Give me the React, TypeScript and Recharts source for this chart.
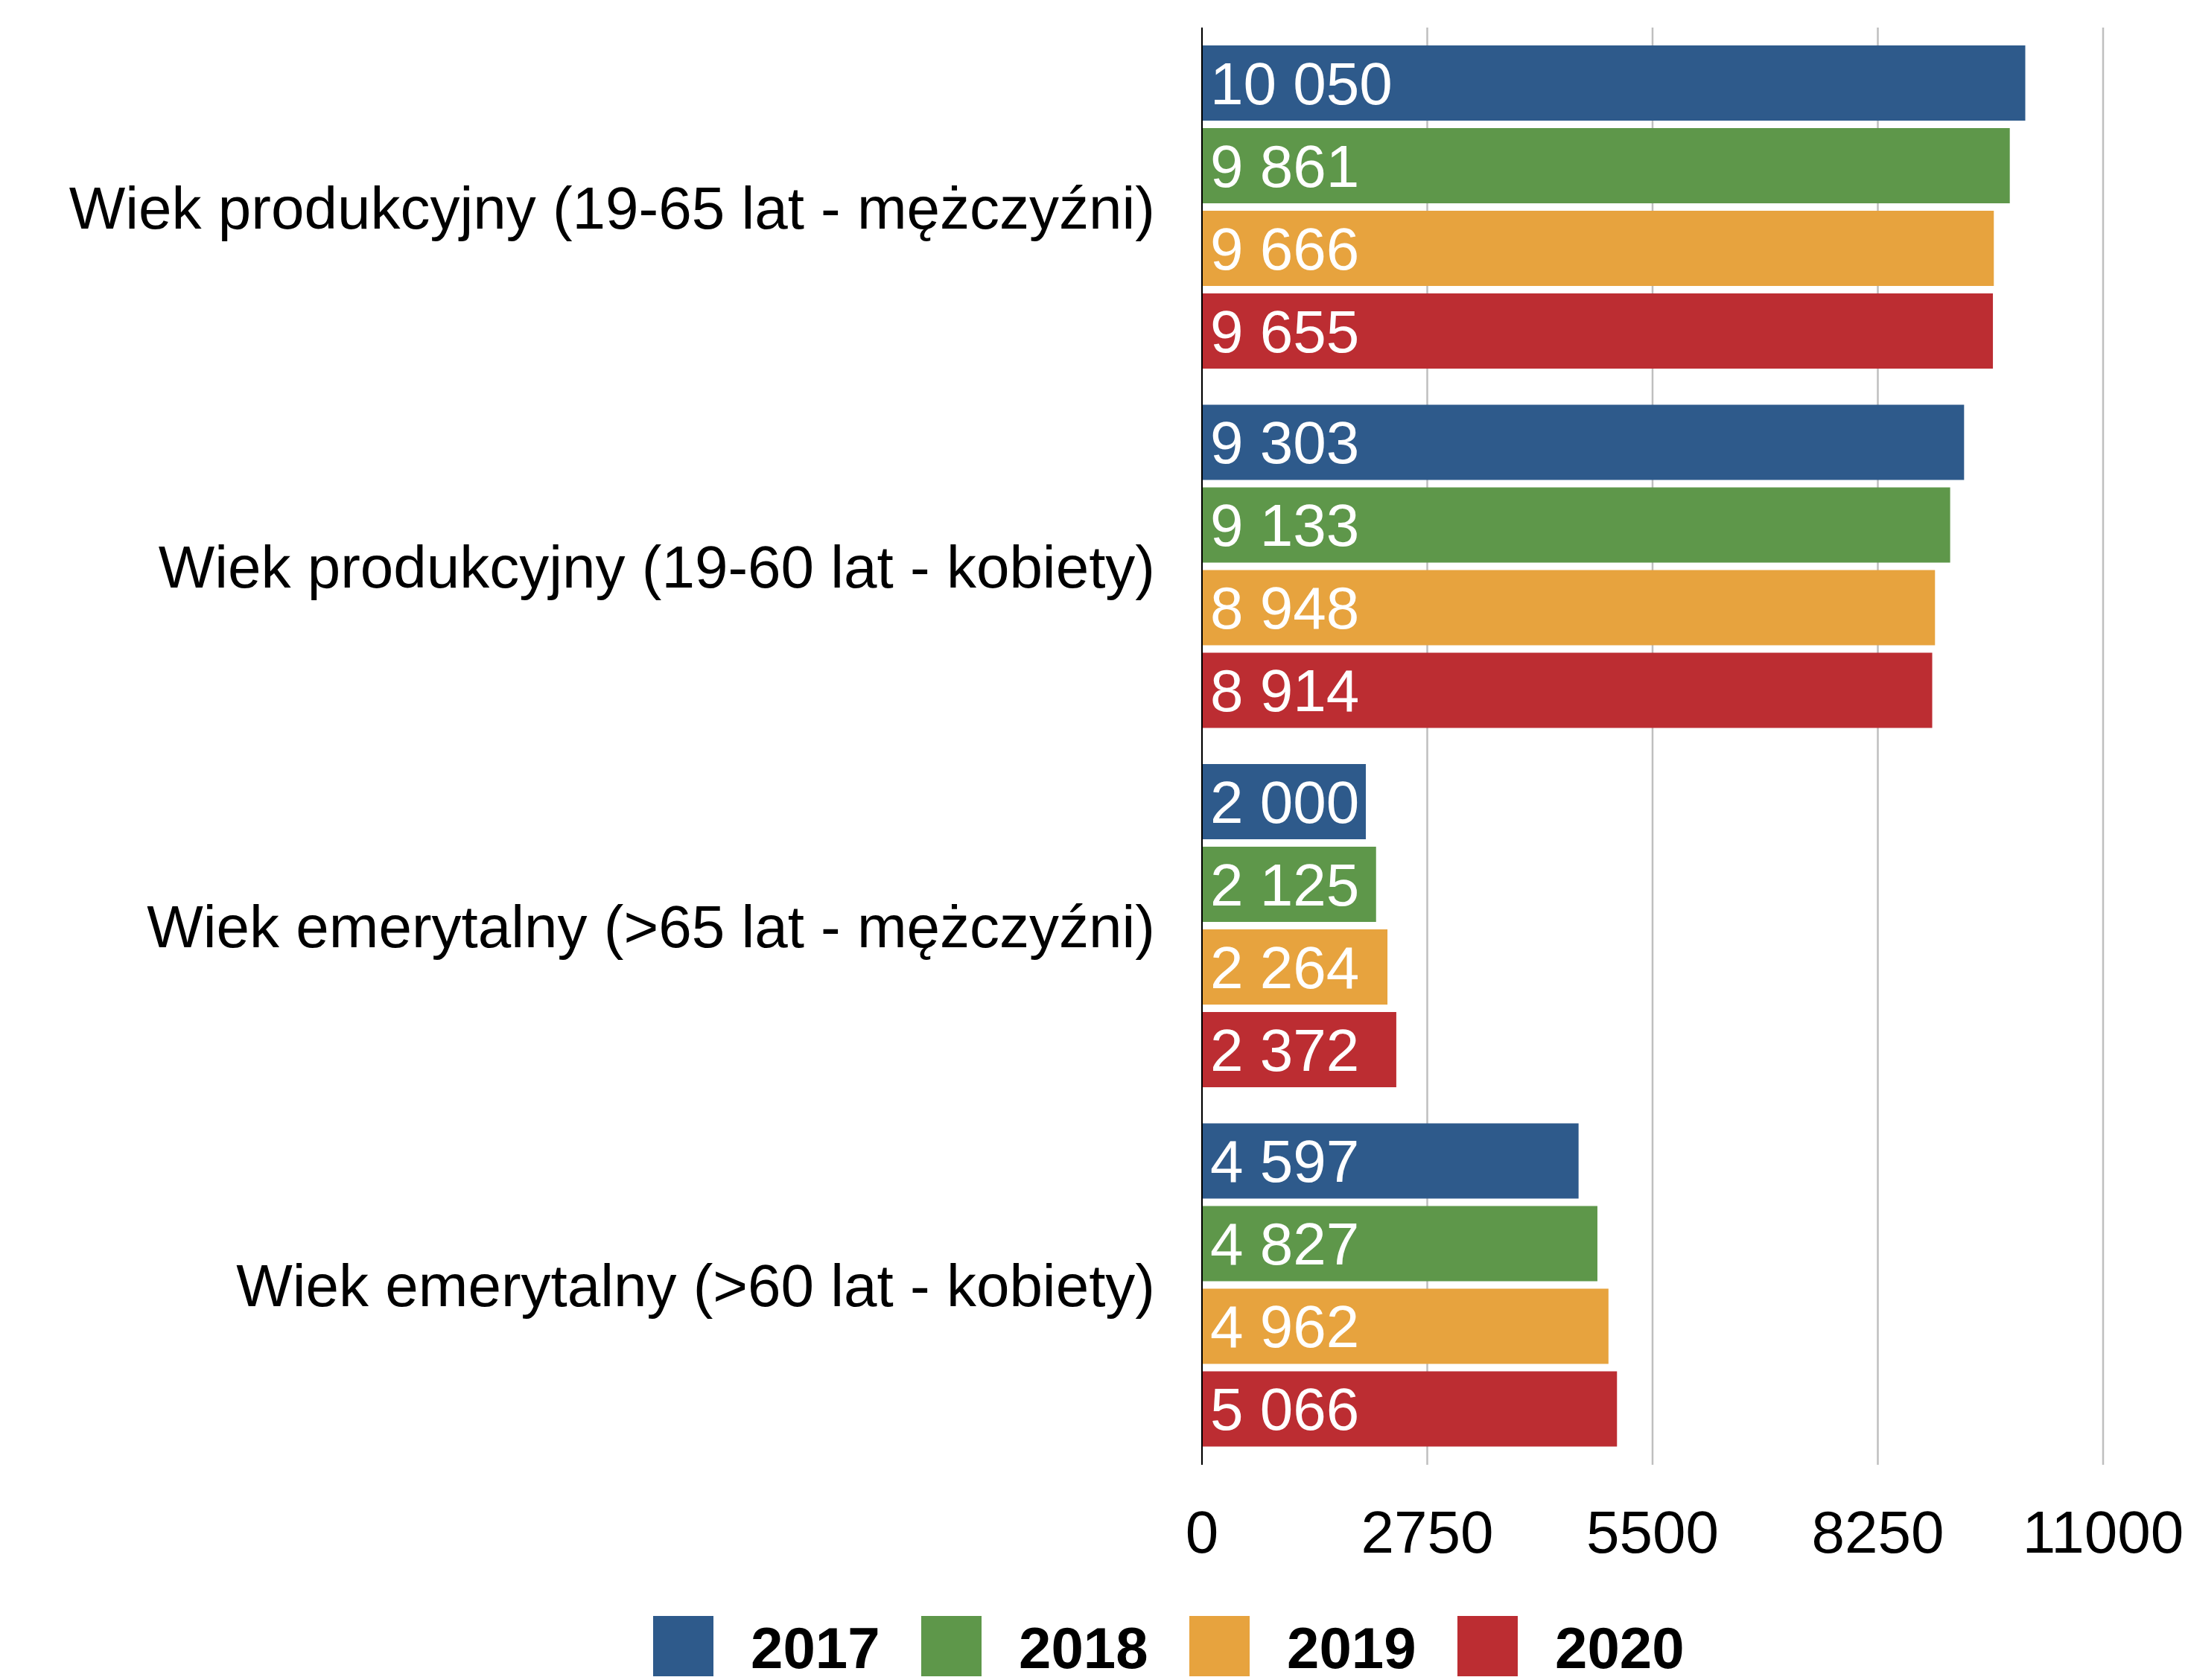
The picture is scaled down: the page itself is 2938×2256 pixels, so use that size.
import React from 'react';
import { BarChart, Bar, XAxis, YAxis, CartesianGrid, Legend, LabelList } from 'recharts';

const categories = [
  'Wiek produkcyjny (19-65 lat - mężczyźni)',
  'Wiek produkcyjny (19-60 lat - kobiety)',
  'Wiek emerytalny (>65 lat - mężczyźni)',
  'Wiek emerytalny (>60 lat - kobiety)',
];
const years = ['2017', '2018', '2019', '2020'];
const values2017 = [10050, 9303, 2000, 4597];
const values2018 = [9861, 9133, 2125, 4827];
const values2019 = [9666, 8948, 2264, 4962];
const values2020 = [9655, 8914, 2372, 5066];
const xTicks = [0, 2750, 5500, 8250, 11000];
const colors = ['#2E5A8B', '#5E974A', '#E7A33E', '#BC2D32'];

const seriesValues = [values2017, values2018, values2019, values2020];

const data = categories.map((name, i) => {
  const row: Record<string, any> = { name };
  years.forEach((y, k) => {
    row[y] = seriesValues[k][i];
  });
  return row;
});

const fmt = (v: any) => String(v).replace(/\B(?=(\d{3})+(?!\d))/g, ' ');

const FONT = '"Liberation Sans", Arial, Helvetica, sans-serif';

const LegendContent = (props: any) => {
  const payload = props.payload || [];
  return (
    <div style={{ display: 'flex', flexDirection: 'row', fontFamily: FONT }}>
      {payload.map((p: any) => (
        <div key={p.value} style={{ width: 360, display: 'flex', flexDirection: 'row', alignItems: 'flex-start' }}>
          <div style={{ width: 81, height: 81, background: p.color, flex: '0 0 auto' }} />
          <span style={{ marginLeft: 50, fontSize: 78, fontWeight: 'bold', lineHeight: '78px', marginTop: 4, color: '#000' }}>
            {p.value}
          </span>
        </div>
      ))}
    </div>
  );
};

export default function App() {
  return (
    <div style={{ width: 2938, height: 2256, position: 'relative', fontFamily: FONT, background: '#fff', overflow: 'hidden' }}>
      <style>{`body{margin:0;}`}</style>
      <BarChart
        width={2938}
        height={2256}
        data={data}
        layout="vertical"
        margin={{ top: 37, right: 114, left: 0, bottom: 0 }}
        barCategoryGap={24}
        barGap={10}
      >
        <CartesianGrid horizontal={false} vertical={true} stroke="#BFBFBF" strokeWidth={2.5} />
        <XAxis
          type="number"
          domain={[0, 11000]}
          ticks={xTicks}
          interval={0}
          axisLine={false}
          tickLine={false}
          tickSize={0}
          tickMargin={61}
          height={289}
          tick={{ fontSize: 80, fill: '#000' }}
        />
        <YAxis
          type="category"
          dataKey="name"
          width={1614}
          axisLine={{ stroke: '#000', strokeWidth: 2 }}
          tickLine={false}
          tickSize={0}
          tickMargin={63}
          tick={{ fontSize: 80, fill: '#000' }}
          interval={0}
        />
        <Legend
          layout="horizontal"
          verticalAlign="middle"
          align="center"
          content={<LegendContent />}
          wrapperStyle={{ left: 877, top: 2170, width: 1500 }}
        />
        {years.map((y, k) => (
          <Bar key={y} dataKey={y} name={y} fill={colors[k]} isAnimationActive={false}>
            <LabelList
              dataKey={y}
              position="insideLeft"
              offset={11}
              fill="#fff"
              fontSize={80}
              formatter={fmt}
            />
          </Bar>
        ))}
      </BarChart>
    </div>
  );
}
